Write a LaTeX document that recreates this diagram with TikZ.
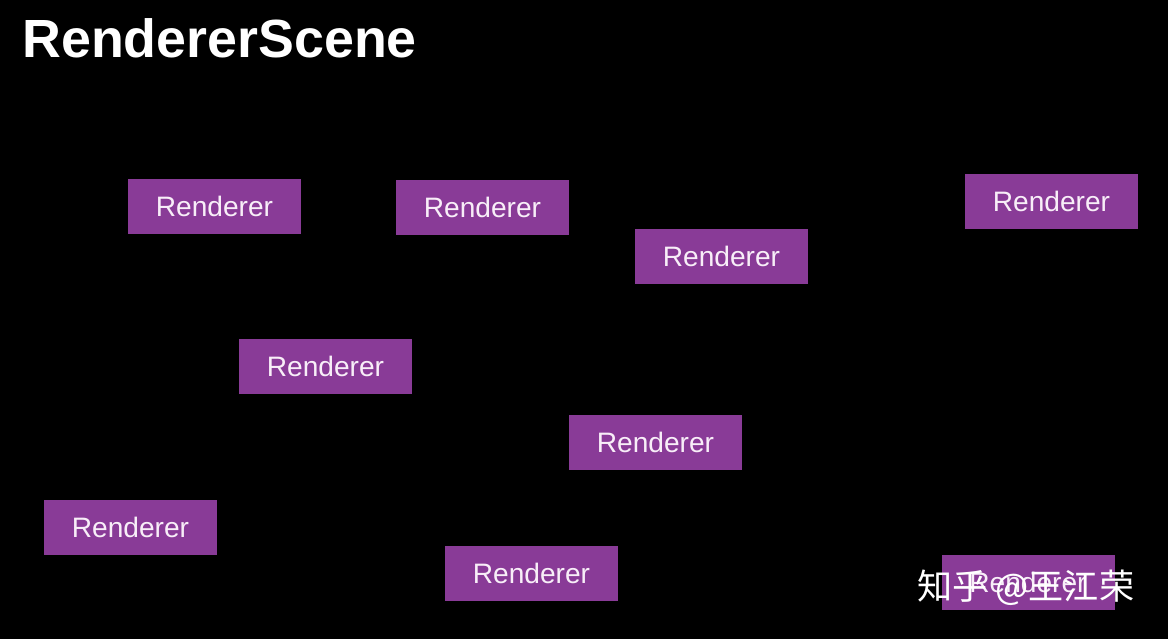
\documentclass[tikz,border=0pt]{standalone}
\usepackage{fontspec}
\setmainfont{Liberation Sans}
\newfontfamily\cjk{Noto Sans CJK SC}
\usepackage{xcolor}
\usepackage{tikz}
\usetikzlibrary{positioning}
\definecolor{cBg}{HTML}{000000}
\definecolor{cPurple}{HTML}{893B97}
\definecolor{cText}{HTML}{F8EEF8}
\tikzset{
  rbox/.style={fill=cPurple,minimum width=3.46cm,minimum height=1.1cm,inner sep=0pt,text=cText,font=\fontsize{16}{18}\selectfont},
  ttl/.style={anchor=base west,inner sep=0pt,text=white,font=\fontsize{30.6}{36}\selectfont\bfseries},
  wmark/.style={anchor=west,inner sep=0pt,text=white,font=\cjk\fontsize{20}{24}\selectfont},
}
\begin{document}
\begin{tikzpicture}[x=0.02cm,y=-0.02cm]
  \fill[cBg] (0,0) rectangle (1168,639);
  \useasboundingbox (0,0) rectangle (1168,639);
  \node[ttl] (title) at (22,57) {RendererScene};
  % renderers, scattered
  \node[rbox] (r1) at (214.5,206.5) {Renderer};
  \node[rbox] (r2) at (482.5,207.5) {Renderer};
  \node[rbox] (r3) at (721.5,256.5) {Renderer};
  \node[rbox] (r4) at (1051.5,201.5) {Renderer};
  \node[rbox] (r5) at (325.5,366.5) {Renderer};
  \node[rbox] (r6) at (655.5,442.5) {Renderer};
  \node[rbox] (r7) at (130.5,527.5) {Renderer};
  \node[rbox] (r8) at (531.5,573.5) {Renderer};
  \node[rbox] (r9) at (1028,582.5) {Renderer};
  \node[wmark] (wm) at (917,588) {知乎 @王江荣};
\end{tikzpicture}
\end{document}
